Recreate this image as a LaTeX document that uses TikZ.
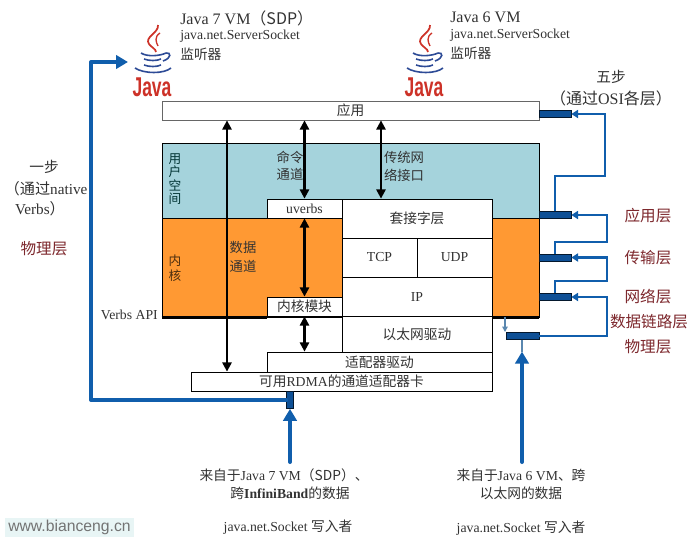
\documentclass[tikz,border=0pt]{standalone}
\usepackage{fontspec}
\setmainfont{Liberation Serif}
\newfontfamily\cjk{Noto Sans CJK SC}
\newfontfamily\logofont{Liberation Sans}
\newcommand{\zh}[1]{{\cjk #1}}
\usetikzlibrary{arrows.meta, positioning, calc}
\definecolor{usercolor}{RGB}{165,211,220}
\definecolor{kernelcolor}{RGB}{255,153,51}
\definecolor{flowcolor}{RGB}{16,94,172}
\definecolor{portcolor}{RGB}{14,80,150}
\definecolor{layercolor}{RGB}{125,40,45}
\definecolor{inkcolor}{RGB}{50,50,50}
\definecolor{thincolor}{RGB}{90,135,175}
\definecolor{markcolor}{RGB}{232,245,245}
\definecolor{logored}{RGB}{205,50,40}
\definecolor{logoblue}{RGB}{45,75,150}

\begin{document}
\begin{tikzpicture}[
    x=0.75pt,
    y=-0.75pt,
    size/.style 2 args={minimum width=#1*0.75pt, minimum height=#2*0.75pt},
    stack/.style={draw=black, line width=0.6pt, fill=white, inner sep=0pt, text=inkcolor, font=\fontsize{10.3}{12}\selectfont},
    space/.style={draw=black, line width=0.6pt, inner sep=0pt},
    port/.style={draw=black!70!portcolor, line width=0.5pt, fill=portcolor, inner sep=0pt},
    label/.style={inner sep=0pt, text=inkcolor, align=center, font=\fontsize{10.3}{13.5}\selectfont},
    title/.style={label, font=\fontsize{12}{14}\selectfont},
    layer/.style={inner sep=0pt, text=layercolor, font=\fontsize{11.7}{13}\selectfont},
    channel/.style={line width=1.6pt, {Triangle[length=7pt,width=7pt]}-{Triangle[length=7pt,width=7pt]}},
    bigflow/.style={line width=3pt, flowcolor, line join=round, line cap=round, -{Triangle[length=9pt,width=10pt]}},
    flow/.style={line width=1.6pt, flowcolor, -{Triangle[length=5pt,width=6pt]}},
    javalogo/.pic={
        \draw[logored, line width=1.3pt] (6,3) .. controls (7,11) and (-8,15) .. (-3,22) .. controls (-1,25) and (4,27) .. (4,30);
        \draw[logored, line width=1pt] (8,11) .. controls (2,15) and (4,20) .. (6,24);
        \draw[logoblue, line width=1.2pt] (-11,31) .. controls (-5,35) and (8,34) .. (14,31);
        \draw[logoblue, line width=1.2pt] (14,31) .. controls (19,30) and (20,36) .. (11,39);
        \draw[logoblue, line width=1.2pt] (-8,37) .. controls (-3,39) and (5,39) .. (9,37);
        \draw[logoblue, line width=1.2pt] (-8,43) .. controls (-3,45) and (5,45) .. (9,43);
        \draw[logoblue, line width=1.2pt] (-17,46) .. controls (-8,52) and (12,52) .. (19,46);
        \node[inner sep=0pt, text=logored, font=\logofont\bfseries\fontsize{17}{17}\selectfont] at (0,65) {\scalebox{0.77}[1.2]{Java}};
    }
]
    \useasboundingbox (0,0) rectangle (696,543);

    % Spaces
    \node[space, size={377}{75}, fill=usercolor] (user) at (350.5,180.5) {};
    \node[space, size={377}{99}, fill=kernelcolor] (kernel) at (350.5,267.5) {};

    % Stack
    \node[stack, size={377}{19}, draw=black!60] (app) at (350.5,110.5) {\zh{应用}};
    \node[stack, size={75}{19}] (uverbs) at (304.5,208.5) {uverbs};
    \node[stack, size={150}{39}] (socket) at (417,218.5) {\zh{套接字层}};
    \node[stack, size={75}{39}] (tcp) at (379.5,257.5) {TCP};
    \node[stack, size={75}{39}] (udp) at (454.5,257.5) {UDP};
    \node[stack, size={150}{39}] (ip) at (417,296.5) {IP};
    \node[stack, size={75}{19}] (kmod) at (304.5,306.5) {\zh{内核模块}};
    \node[stack, size={150}{36}] (ethdrv) at (417,334) {\zh{以太网驱动}};
    \node[stack, size={225}{20}] (adrv) at (379.5,362) {\zh{适配器驱动}};
    \node[stack, size={301}{19}] (rdma) at (341.5,381.5) {\zh{可用}RDMA\zh{的通道适配器卡}};

    % Verbs API edge
    \draw[line width=2.6pt] (kernel.south west) -- (kernel.south -| kmod.west);
    \draw[line width=2.6pt] (kernel.south -| ip.east) -- (kernel.south east);

    % Channels
    \coordinate (datach) at (227,250);
    \coordinate (legacy) at (381,160);
    \draw[channel] (datach |- app.south) -- (datach |- rdma.north);
    \draw[channel] (uverbs.north |- app.south) -- (uverbs.north);
    \draw[channel] (uverbs.south) -- (kmod.north);
    \draw[channel] (kmod.south) -- (kmod.south |- adrv.north);
    \draw[channel] (legacy |- app.south) -- (legacy |- socket.north);

    % Logos
    \pic at (152,22) {javalogo};
    \pic at (424,22) {javalogo};

    % Ports
    \node[port, size={32}{7}] (appport) at (555,114) {};
    \node[port, size={32}{7}] (sockport) at (555,215) {};
    \node[port, size={32}{7}] (tcpport) at (555,257.5) {};
    \node[port, size={32}{7}] (ipport) at (555,297) {};
    \node[port, size={33}{7}] (ethport) at (522.5,336) {};
    \node[port, size={7}{17}] (rdmaport) at (290,400) {};

    % Flows
    \coordinate (turna) at (605,176);
    \coordinate (turnb) at (607,242);
    \coordinate (turnc) at (607,281);
    \coordinate (turnd) at (607,336);
    \draw[flow] (sockport.north) |- (turna) |- (appport.east);
    \draw[flow] (tcpport.north) |- (turnb) |- (sockport.east);
    \draw[flow] (ipport.north) |- (turnc) |- (tcpport.east);
    \draw[flow] (ethport.east) -- (turnd) |- (ipport.east);

    \coordinate (ethin) at (505,332);
    \coordinate (ethsrc) at (522,462);
    \coordinate (ibsrc) at (290,462);
    \coordinate (leftturn) at (91,62);
    \coordinate (java7in) at (128,62);
    \draw[line width=1pt, thincolor, -{Triangle[length=4pt,width=4pt]}] (ethin |- kernel.south) -- (ethin);
    \draw[bigflow] (ethsrc) -- (ethsrc |- adrv.north);
    \draw[line width=1pt, thincolor] (ethport.south -| ethsrc) -- (ethsrc |- adrv.north);
    \draw[bigflow] (ibsrc) -- (rdmaport.south);
    \draw[bigflow] (rdmaport.west) -| (leftturn) -- (java7in);

    % Top labels
    \node[title, anchor=west] (j7title) at (180,18) {Java 7 VM\zh{（SDP）}};
    \node[label, anchor=west] (j7sock) at (180,36) {java.net.ServerSocket};
    \node[label, anchor=west] (j7lis) at (180,54) {\zh{监听器}};
    \node[title, anchor=west] (j6title) at (450,17) {Java 6 VM};
    \node[label, anchor=west] (j6sock) at (450,35) {java.net.ServerSocket};
    \node[label, anchor=west] (j6lis) at (450,53) {\zh{监听器}};
    \node[title, font=\fontsize{11}{14}\selectfont] (five) at (611,77) {\zh{五步}};
    \node[title] (fivesub) at (611,98) {\zh{（通过}OSI\zh{各层）}};

    % Left labels
    \node[title, font=\fontsize{11}{14}\selectfont] (one) at (44,167) {\zh{一步}};
    \node[title, font=\fontsize{11.4}{14}\selectfont] (onesub) at (46,189) {\zh{（通过}native};
    \node[title, font=\fontsize{11.4}{14}\selectfont] (onesubb) at (40,209) {Verbs\zh{）}};
    \node[layer] (phyl) at (44,249) {\zh{物理层}};
    \node[label, anchor=east] (verbsapi) at (158,315) {Verbs API};

    % Inner labels
    \node[label, text=black!60!teal, font=\fontsize{9.5}{10}\selectfont] (userl) at (175,179) {\zh{用}\\\zh{户}\\\zh{空}\\\zh{间}};
    \node[label, text=black!70!kernelcolor, font=\fontsize{9.5}{11.25}\selectfont] (kernell) at (175,268) {\zh{内}\\\zh{核}};
    \node[label, font=\fontsize{10}{12.75}\selectfont] (cmdl) at (290,165.5) {\zh{命令}\\\zh{通道}};
    \node[label, font=\fontsize{10}{13.5}\selectfont] (legacyl) at (404,166) {\zh{传统网}\\\zh{络接口}};
    \node[label, font=\fontsize{10}{14.25}\selectfont] (datal) at (243,256.5) {\zh{数据}\\\zh{通道}};

    % Layer labels
    \node[layer] (l5) at (648,216) {\zh{应用层}};
    \node[layer] (l4) at (648,258) {\zh{传输层}};
    \node[layer] (l3) at (648,297) {\zh{网络层}};
    \node[layer] (l2) at (649,322) {\zh{数据链路层}};
    \node[layer] (l1) at (648,347) {\zh{物理层}};

    % Bottom labels
    \node[label] (ibsrcl) at (284,475) {\zh{来自于}Java 7 VM\zh{（SDP）、}};
    \node[label] (ibsrcm) at (290,493) {\zh{跨}\textbf{InfiniBand}\zh{的数据}};
    \node[label] (ibwr) at (288,527) {java.net.Socket \zh{写入者}};
    \node[label] (ethsrcl) at (521,475) {\zh{来自于}Java 6 VM\zh{、跨}};
    \node[label] (ethsrcm) at (521,493) {\zh{以太网的数据}};
    \node[label] (ethwr) at (521,528) {java.net.Socket \zh{写入者}};

    % Mark
    \node[fill=markcolor, size={129}{19}, inner sep=0pt, text=black!55, font=\logofont\fontsize{11.8}{13}\selectfont] (mark) at (69.5,527.5) {www.bianceng.cn};
\end{tikzpicture}
\end{document}
